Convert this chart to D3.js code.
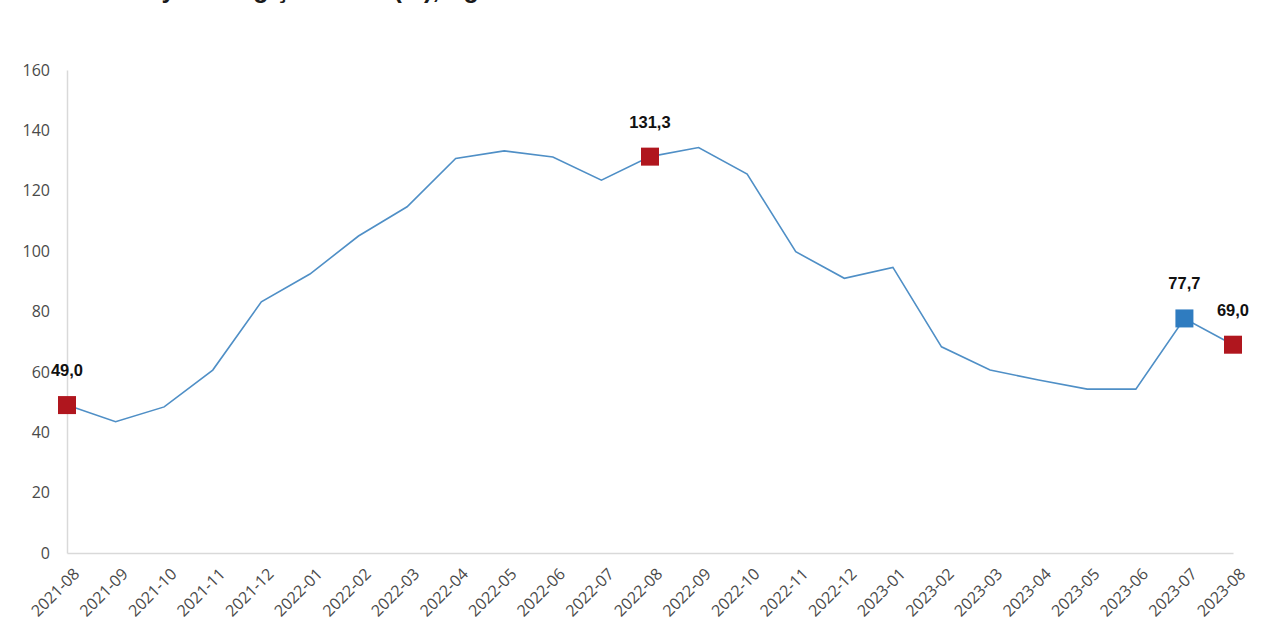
<!DOCTYPE html>
<html>
<head>
<meta charset="utf-8">
<script src="https://cdn.jsdelivr.net/npm/d3@7"></script>
<style>
  html, body { margin: 0; padding: 0; background: #fff; }
  svg { display: block; }
</style>
</head>
<body>
<svg id="chart" width="1280" height="640"></svg>
<script>
const titleText = "Tarım-ÜFE yıllık değişim oranı (%), Ağustos 2023";
const categories = ["2021-08","2021-09","2021-10","2021-11","2021-12","2022-01","2022-02","2022-03","2022-04","2022-05","2022-06","2022-07","2022-08","2022-09","2022-10","2022-11","2022-12","2023-01","2023-02","2023-03","2023-04","2023-05","2023-06","2023-07","2023-08"];
const values = [49.0,43.5,48.4,60.6,83.2,92.4,105.0,114.7,130.7,133.2,131.2,123.5,131.3,134.3,125.5,99.8,91.0,94.6,68.3,60.6,57.3,54.3,54.3,77.7,69.0];
const yTicks = [0,20,40,60,80,100,120,140,160];
const highlighted = [
  {cat:"2021-08", label:"49,0", kind:"red"},
  {cat:"2022-08", label:"131,3", kind:"red"},
  {cat:"2023-07", label:"77,7", kind:"blue"},
  {cat:"2023-08", label:"69,0", kind:"red"}
];

const svg = d3.select("#chart");
const x = d3.scalePoint().domain(categories).range([67, 1233]);
const y = d3.scaleLinear().domain([0,160]).range([553, 70]);
const val = {}; categories.forEach((c,i)=>val[c]=values[i]);

// title (cropped at top, as in the reference)
svg.append("text").attr("x", 30).attr("y", -2)
  .attr("font-family","Liberation Sans, Arial, sans-serif").attr("font-weight","bold")
  .attr("font-size", 25).attr("fill","#1a1a1a").text(titleText);

// y axis
const yAxis = svg.append("g").attr("transform","translate(67,0)")
  .call(d3.axisLeft(y).tickValues(yTicks).tickSize(0).tickPadding(17).tickFormat(d3.format("d")));
yAxis.select(".domain").attr("stroke","#d9d9d9").attr("stroke-width",1.5);
yAxis.selectAll("text").attr("font-family","Open Sans, sans-serif").attr("font-size",16).attr("fill","#4a4a4a");

// x axis
const xAxis = svg.append("g").attr("transform","translate(0,553)")
  .call(d3.axisBottom(x).tickSize(0).tickPadding(0));
xAxis.select(".domain").attr("stroke","#d9d9d9").attr("stroke-width",1.5);
xAxis.selectAll("text")
  .attr("font-family","Open Sans, sans-serif").attr("font-size",16).attr("fill","#4a4a4a")
  .attr("text-anchor","end")
  .attr("dy","0.35em")
  .attr("transform", "translate(9,18) rotate(-45)");

// line
const line = d3.line().x((d,i)=>x(categories[i])).y(d=>y(d));
svg.append("path").datum(values).attr("d", line)
  .attr("fill","none").attr("stroke","#4f8fc6").attr("stroke-width",1.6);

// markers
const colors = {red:"#b0161e", blue:"#2f7cc0"};
const ms = 18;
svg.selectAll("rect.mk").data(highlighted).join("rect").attr("class","mk")
  .attr("x", d=>x(d.cat)-ms/2).attr("y", d=>y(val[d.cat])-ms/2)
  .attr("width", ms).attr("height", ms)
  .attr("fill", d=>colors[d.kind]);

svg.selectAll("text.lbl").data(highlighted).join("text").attr("class","lbl")
  .attr("x", d=>x(d.cat)).attr("y", d=>y(val[d.cat])-29)
  .attr("text-anchor","middle")
  .attr("font-family","Liberation Sans, Arial, sans-serif").attr("font-weight","bold")
  .attr("font-size",16.5).attr("fill","#111")
  .text(d=>d.label);
</script>
</body>
</html>
